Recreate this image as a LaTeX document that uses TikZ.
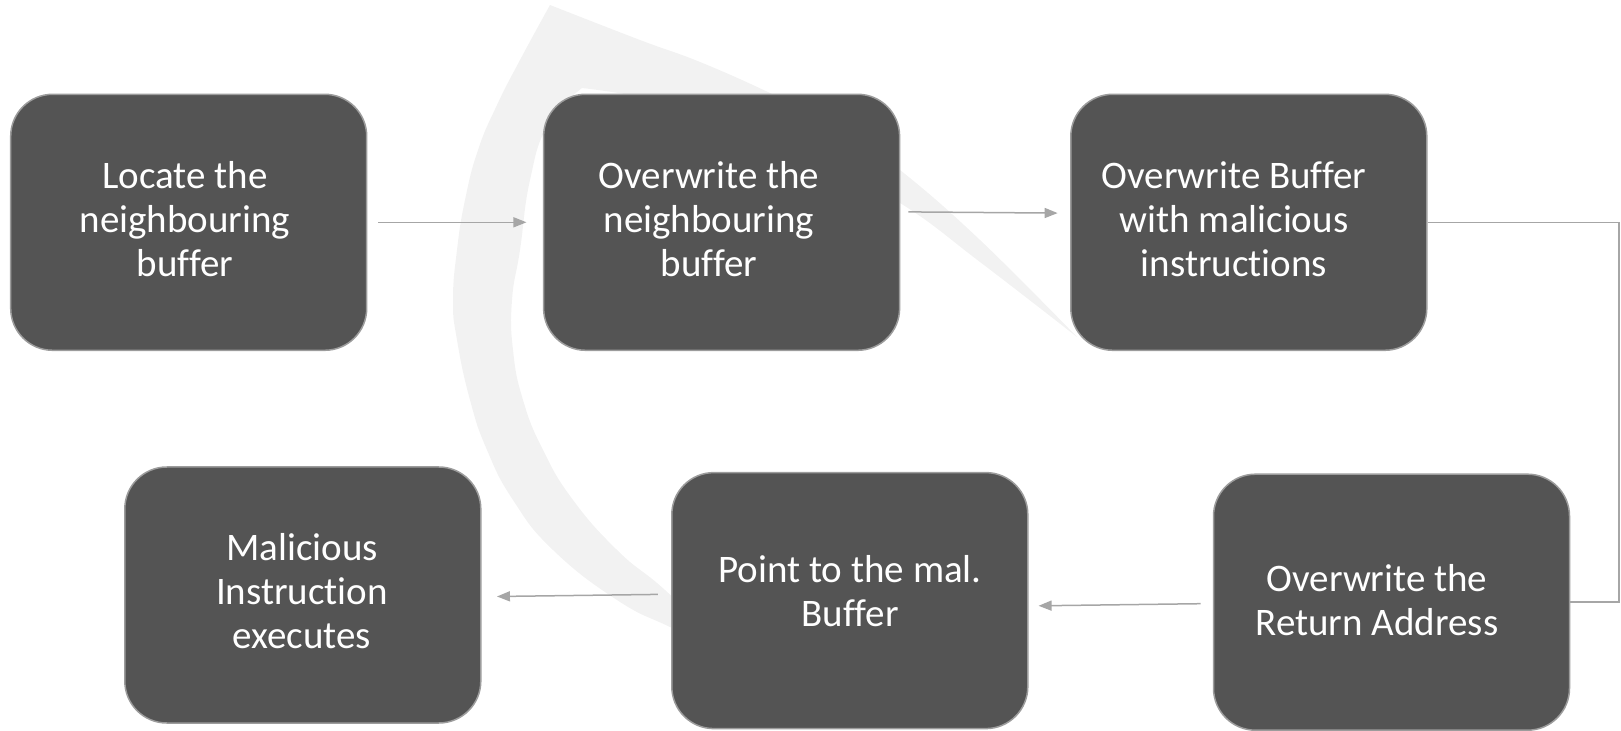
\documentclass[tikz,border=0pt]{standalone}
\usepackage{fontspec}
\setmainfont[Ligatures=NoCommon]{Carlito}
\usetikzlibrary{arrows.meta}
\definecolor{boxfill}{HTML}{545454}
\definecolor{boxline}{HTML}{9C9C9C}
\definecolor{linkgray}{HTML}{A6A6A6}
\definecolor{swoosh}{HTML}{F2F2F2}
\tikzset{
  stepbox/.style={rectangle, rounded corners=21pt, fill=boxfill, draw=boxline,
    line width=0.75pt, minimum width=178pt, minimum height=128pt, inner sep=0pt},
  steptext/.style={text=white, align=center, inner sep=0pt,
    font=\fontsize{19.5pt}{22pt}\selectfont},
  conn/.style={draw=linkgray, line width=0.75pt,
    -{Triangle[length=6.5pt,width=5pt]}},
  plainlink/.style={draw=linkgray, line width=0.75pt},
}
\begin{document}
\begin{tikzpicture}[x=0.5pt, y=-0.5pt]
\useasboundingbox (0,0) rectangle (1621,731);

% light background swoosh
\fill[swoosh]
  plot[smooth, tension=0.7] coordinates {(550,5) (640,40) (700,62) (770,93) (840,128) (900,170) (980,240) (1077,337)}
  -- plot[smooth, tension=0.7] coordinates {(1077,337) (980,262) (900,203) (800,150) (700,114) (640,97) (582,88)}
  -- plot[smooth, tension=0.8] coordinates {(582,88) (548,125) (530,180) (520,250) (512,300) (513,350) (523,400) (543,450) (573,500) (617,550) (657,583) (690,612) (720,630)}
  -- plot[smooth, tension=0.8] coordinates {(720,650) (670,627) (617,600) (553,550) (513,500) (487,450) (470,400) (457,340) (453,300) (457,250) (465,200) (478,150) (497,105) (520,60) (550,5)}
  -- cycle;

% step boxes
\node[stepbox] (b1) at (188.7,222.3) {};
\node[stepbox] (b2) at (721.6,222.3) {};
\node[stepbox] (b3) at (1248.8,222.3) {};
\node[stepbox] (b4) at (1391.5,602.2) {};
\node[stepbox] (b5) at (849.8,600.6) {};
\node[stepbox] (b6) at (302.8,595) {};

% step labels
\node[steptext] (t1) at (185,219) {Locate the\\neighbouring\\buffer};
\node[steptext] (t2) at (709,219) {Overwrite the\\neighbouring\\buffer};
\node[steptext] (t3) at (1234,219) {Overwrite Buffer\\with malicious\\instructions};
\node[steptext] (t4) at (1377,600) {Overwrite the\\Return Address};
\node[steptext] (t5) at (850,591) {Point to the mal.\\Buffer};
\node[steptext] (t6) at (302,591) {Malicious\\Instruction\\executes};

% connectors
\coordinate (rt) at (1619,400);
\draw[conn] ([xshift=5.3pt]b1.east) -- ([xshift=-8.2pt]b2.west);
\draw[conn] ([xshift=4pt,yshift=5.2pt]b2.east) -- ([xshift=-6.2pt,yshift=4.6pt]b3.west);
\draw[plainlink] (b3.east) -| (rt) |- (b4.east);
\draw[conn] ([xshift=-6.1pt,yshift=-0.75pt]b4.west) -- ([xshift=5pt,yshift=-2.6pt]b5.east);
\draw[conn] ([xshift=-6.6pt,yshift=3.1pt]b5.west) -- ([xshift=7.7pt,yshift=-0.75pt]b6.east);
\end{tikzpicture}
\end{document}
